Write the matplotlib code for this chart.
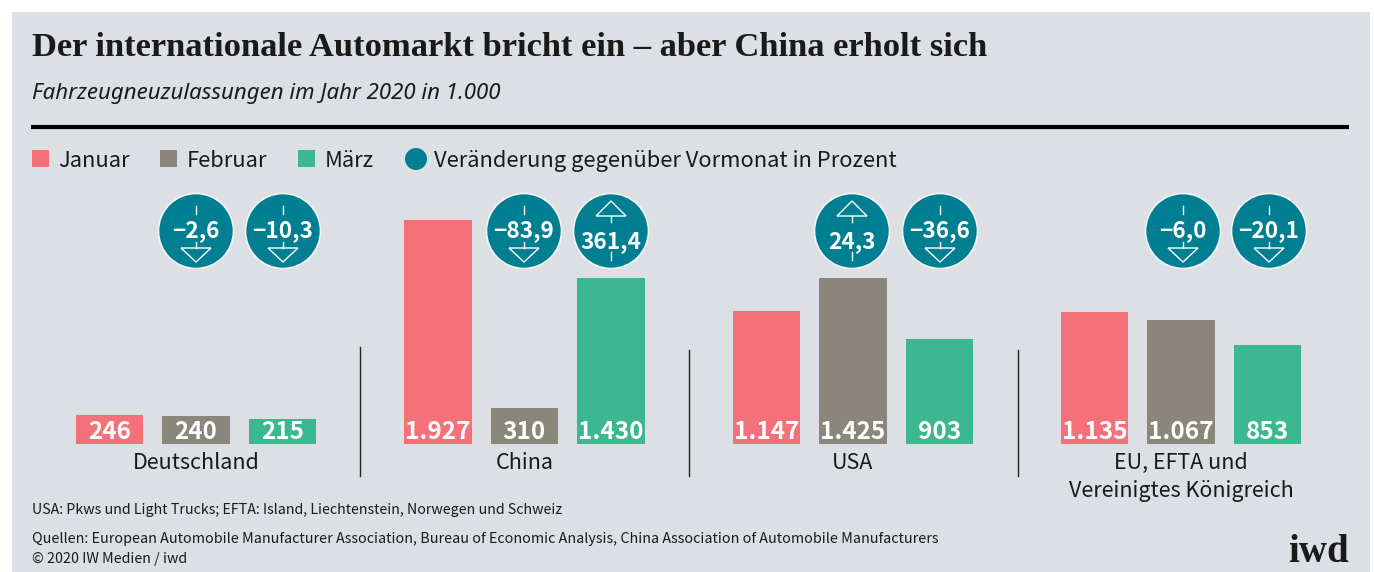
import matplotlib
matplotlib.use("Agg")
import matplotlib.pyplot as plt
from matplotlib.patches import Rectangle, Circle, Polygon

countries = ["Deutschland", "China", "USA", "EU, EFTA und\nVereinigtes Königreich"]
months = ["Januar", "Februar", "März"]
januar = [246, 1927, 1147, 1135]
februar = [240, 310, 1425, 1067]
maerz = [215, 1430, 903, 853]
veraenderung_feb = [-2.6, -83.9, 24.3, -6.0]
veraenderung_mrz = [-10.3, 361.4, -36.6, -20.1]

RED = "#f4717a"
GREY = "#8a867c"
GREEN = "#3bb88f"
TEAL = "#007f92"
BG = "#dcdfe4"
DARK = "#1a1a1a"
SANS = ["Noto Sans CJK SC", "DejaVu Sans"]
SERIF = "Liberation Serif"


def fmt(v):
    s = f"{v:,.0f}".replace(",", ".")
    return s


def fmt_pct(v):
    return f"{abs(v):.1f}".replace(".", ",") if v > 0 else "\u2212" + f"{abs(v):.1f}".replace(".", ",")


fig = plt.figure(figsize=(13.74, 5.72), dpi=100, facecolor="white")

# Deko-Ebene in Pixeln
deco = fig.add_axes([0, 0, 1, 1])
deco.set_xlim(0, 1374)
deco.set_ylim(572, 0)
deco.axis("off")
deco.add_patch(Rectangle((12, 12), 1358, 560, color=BG, lw=0))

deco.text(32, 48, "Der internationale Automarkt bricht ein – aber China erholt sich",
          family=SERIF, weight="bold", size=24.8, color=DARK, va="center")
deco.text(32, 93, "Fahrzeugneuzulassungen im Jahr 2020 in 1.000",
          family="Noto Sans", style="italic", size=16, color=DARK, va="center")
deco.plot([31, 1349], [127, 127], color="black", lw=3, solid_capstyle="butt")

# Legende
for x, tx, col, name in zip([32, 160, 298], [58, 187, 325], [RED, GREY, GREEN], months):
    deco.add_patch(Rectangle((x, 150), 17, 17, color=col, lw=0))
    deco.text(tx, 161, name, family=SANS, size=15.8, color=DARK, va="center")
deco.add_patch(Circle((416, 159), 11, color=TEAL, lw=0))
deco.text(434, 161, "Veränderung gegenüber Vormonat in Prozent", family=SANS, size=15.8,
          color=DARK, va="center")

# Balken
ax = fig.add_axes([0, (572 - 444) / 572, 1, 444 / 572])
ax.set_xlim(0, 1374)
ax.set_ylim(0, 444 / 0.1162)
ax.axis("off")
ax.patch.set_alpha(0)

for i, country in enumerate(countries):
    cx = 196 + 328.4 * i
    vals = [januar[i], februar[i], maerz[i]]
    for j, (v, col) in enumerate(zip(vals, [RED, GREY, GREEN])):
        x = cx + 86.5 * (j - 1)
        ax.bar(x, v, width=67.5, color=col, lw=0)
        ax.annotate(fmt(v), xy=(x, 0), xytext=(0, 8.5), textcoords="offset points",
                    family=SANS, weight="bold", size=17.5, color="white",
                    ha="center", va="center")
    deco.text(cx, 463, country.split("\n")[0], family=SANS, size=15.5, color=DARK,
              ha="center", va="center")
    if "\n" in country:
        deco.text(cx, 491, country.split("\n")[1], family=SANS, size=15.5, color=DARK,
                  ha="center", va="center")

for x, y0 in zip([360, 689, 1018], [347, 350, 350]):
    deco.plot([x, x], [y0, 476], color="#222222", lw=1)

# Kreise mit Pfeilen
centers = [196, 283, 524, 611, 852, 940, 1183, 1269]
pct = [p for pair in zip(veraenderung_feb, veraenderung_mrz) for p in pair]
for x, p in zip(centers, pct):
    y = 231
    deco.add_patch(Circle((x, y), 37.5, facecolor=TEAL, edgecolor="#f2f3f5", lw=1.2, zorder=6))
    if p < 0:
        ty = y
        deco.plot([x, x], [y - 25, y - 17], color="white", lw=1, zorder=7)
        deco.plot([x, x], [y + 11, y + 17], color="white", lw=1, zorder=7)
        tri = [(x - 15, y + 17), (x + 15, y + 17), (x, y + 31)]
    else:
        ty = y + 11
        deco.plot([x, x], [y + 21, y + 29], color="white", lw=1, zorder=7)
        deco.plot([x, x], [y - 15, y - 9], color="white", lw=1, zorder=7)
        tri = [(x - 15, y - 15), (x + 15, y - 15), (x, y - 30)]
    deco.add_patch(Polygon(tri, closed=True, fill=False, edgecolor="white", lw=1, zorder=7))
    deco.text(x, ty, fmt_pct(p), family=SANS, weight="bold", size=16.3, color="white",
              ha="center", va="center", zorder=8)

# Fussnoten
deco.text(32, 510, "USA: Pkws und Light Trucks; EFTA: Island, Liechtenstein, Norwegen und Schweiz",
          family=SANS, size=10.25, color=DARK, va="center")
deco.text(32, 539, "Quellen: European Automobile Manufacturer Association, Bureau of Economic Analysis, "
          "China Association of Automobile Manufacturers",
          family=SANS, size=10.3, color=DARK, va="center")
deco.text(32, 559, "© 2020 IW Medien / iwd", family=SANS, size=10.25, color=DARK, va="center")
deco.text(1349, 553, "iwd", family=SERIF, weight="bold", size=28, color=DARK,
          ha="right", va="center")

fig.savefig("out.png", dpi=100)
